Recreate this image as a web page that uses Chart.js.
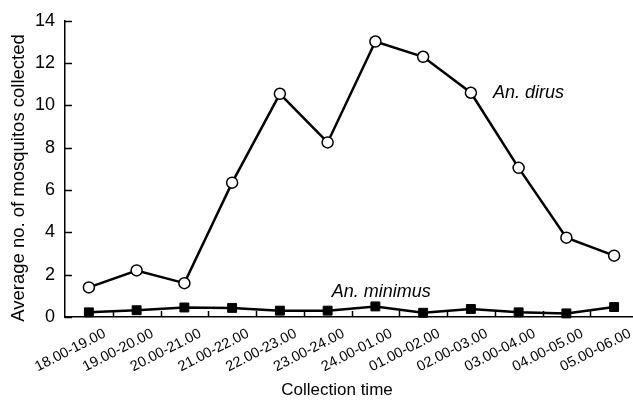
<!DOCTYPE html>
<html>
<head>
<meta charset="utf-8">
<script src="https://cdn.jsdelivr.net/npm/chart.js@4.4.1/dist/chart.umd.min.js"></script>
<style>
  html, body { margin: 0; padding: 0; background: #fff; overflow: hidden; }
  #wrap { width: 660px; height: 402px; }
</style>
</head>
<body>
<div id="wrap"><canvas id="c" width="660" height="402"></canvas></div>
<script>
// ---- data ----
const categories = ["18.00-19.00", "19.00-20.00", "20.00-21.00", "21.00-22.00", "22.00-23.00", "23.00-24.00",
                    "24.00-01.00", "01.00-02.00", "02.00-03.00", "03.00-04.00", "04.00-05.00", "05.00-06.00"];
const dirusValues   = [1.4, 2.2, 1.6, 6.35, 10.55, 8.25, 13.02, 12.3, 10.6, 7.05, 3.75, 2.9];
const minimusValues = [0.22, 0.32, 0.45, 0.43, 0.3, 0.3, 0.5, 0.2, 0.38, 0.22, 0.17, 0.47];
const yTicks = [0, 2, 4, 6, 8, 10, 12, 14];
const seriesNames = ["An. dirus", "An. minimus"];
const xTitle = "Collection time";
const yTitle = "Average no. of mosquitos collected";

const FONT = "'Liberation Sans', Arial, Helvetica, sans-serif";

const decorations = {
  id: 'decorations',
  afterDraw(chart) {
    const ctx = chart.ctx;
    const xs = chart.scales.x, ys = chart.scales.y;
    const area = chart.chartArea;
    ctx.save();
    ctx.strokeStyle = '#000';
    ctx.lineWidth = 1.5;
    // inward y ticks
    yTicks.forEach(v => {
      const y = Math.round(ys.getPixelForValue(v)) + 0.5;
      ctx.beginPath(); ctx.moveTo(area.left, y); ctx.lineTo(area.left + 7, y); ctx.stroke();
    });
    // inward x ticks at category boundaries
    for (let i = 0; i < categories.length - 1; i++) {
      const x = Math.round((xs.getPixelForValue(i) + xs.getPixelForValue(i + 1)) / 2) + 0.5;
      ctx.beginPath(); ctx.moveTo(x, area.bottom); ctx.lineTo(x, area.bottom - 6); ctx.stroke();
    }
    ctx.fillStyle = '#000';
    // series labels
    ctx.font = 'italic 18px ' + FONT;
    ctx.textAlign = 'left';
    ctx.textBaseline = 'alphabetic';
    ctx.fillText(seriesNames[0], xs.getPixelForValue(8) + 22, ys.getPixelForValue(10.37));
    ctx.fillText(seriesNames[1], xs.getPixelForValue(5) + 4, ys.getPixelForValue(0.96));
    // axis titles
    ctx.font = '17px ' + FONT;
    ctx.textAlign = 'center';
    ctx.textBaseline = 'middle';
    ctx.fillText(xTitle, 337, 390);
    ctx.save();
    ctx.translate(19, 178);
    ctx.rotate(-Math.PI / 2);
    ctx.font = '18.5px ' + FONT;
    ctx.fillText(yTitle, 0, 0);
    ctx.restore();
    ctx.restore();
  }
};

new Chart(document.getElementById('c'), {
  type: 'line',
  data: {
    labels: categories,
    datasets: [
      {
        label: seriesNames[0],
        data: dirusValues,
        borderColor: '#000',
        borderWidth: 2.5,
        backgroundColor: '#fff',
        pointStyle: 'circle',
        pointRadius: 5.5,
        pointBorderWidth: 1.5,
        pointBorderColor: '#000',
        pointBackgroundColor: '#fff',
        tension: 0
      },
      {
        label: seriesNames[1],
        data: minimusValues,
        borderColor: '#000',
        borderWidth: 2.5,
        backgroundColor: '#000',
        pointStyle: 'rect',
        pointRadius: 6.3,
        pointBorderWidth: 1,
        pointBorderColor: '#000',
        pointBackgroundColor: '#000',
        tension: 0
      }
    ]
  },
  options: {
    responsive: false,
    animation: false,
    devicePixelRatio: 1,
    clip: false,
    layout: { padding: { top: 20, right: 22, left: 0, bottom: 0 } },
    plugins: { legend: { display: false }, tooltip: { enabled: false } },
    scales: {
      x: {
        type: 'category',
        offset: true,
        grid: { display: false, drawTicks: false },
        border: { display: true, color: '#000', width: 1.5 },
        ticks: {
          color: '#000',
          font: { family: FONT, size: 14.5 },
          autoSkip: false,
          minRotation: 27,
          maxRotation: 27,
          padding: 8,
          labelOffset: 16
        },
        afterFit(scale) { scale.height = 85; }
      },
      y: {
        min: 0,
        max: 14,
        grid: { display: false, drawTicks: false },
        border: { display: true, color: '#000', width: 1.5 },
        ticks: {
          color: '#000',
          font: { family: FONT, size: 18 },
          stepSize: 2,
          padding: 10
        },
        afterBuildTicks(scale) { scale.ticks = yTicks.map(v => ({ value: v })); },
        afterFit(scale) { scale.width = 65; }
      }
    }
  },
  plugins: [decorations]
});
</script>
</body>
</html>
